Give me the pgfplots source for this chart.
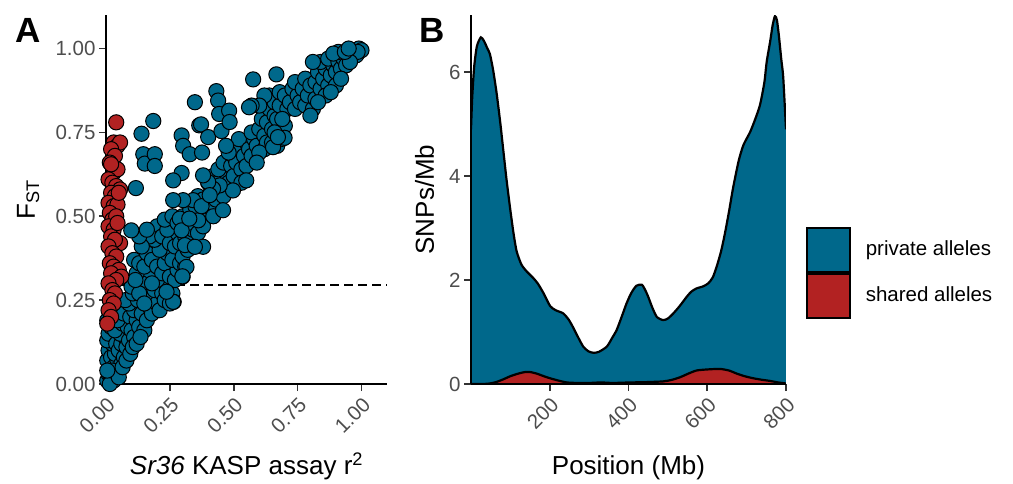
\documentclass[border=0pt]{standalone}
\usepackage{fontspec}
\setmainfont{Liberation Sans}
\usepackage{pgfplots}
\pgfplotsset{compat=1.18}
\definecolor{privblue}{HTML}{00688B}
\definecolor{sharedred}{HTML}{B22222}
\definecolor{ticktext}{HTML}{4D4D4D}
\definecolor{tickmark}{HTML}{333333}

\pgfplotsset{
  gg/.style={
    scale only axis, axis on top,
    axis x line*=bottom, axis y line*=left,
    axis line style={line width=2pt, black},
    tick style={line width=1.6pt, tickmark},
    tick align=outside, major tick length=7pt,
    tick label style={font=\fontsize{20.5}{23}\selectfont, text=ticktext},
    /pgf/number format/assume math mode=true,
    label style={font=\fontsize{26}{29}\selectfont},
    xticklabel style={rotate=45, anchor=north east},
  },
  dot/.style={only marks, mark=*, mark size=7.6pt,
    mark options={fill=#1, draw=black, line width=1pt}},
}

\begin{document}
\begin{tikzpicture}[x=1pt,y=1pt]
\path[use as bounding box] (0,0) rectangle (1013,483);

% ---------- panel A ----------
\begin{axis}[gg,
  at={(106pt,99pt)}, anchor=south west,
  width=281pt, height=369pt,
  xmin=0, xmax=1.1, ymin=0, ymax=1.1,
  xtick={0,0.25,0.5,0.75,1}, xticklabels={0.00,0.25,0.50,0.75,1.00},
  ytick={0,0.25,0.5,0.75,1}, yticklabels={0.00,0.25,0.50,0.75,1.00},
  xlabel={\textit{Sr36} KASP assay r\textsuperscript{2}},
  ylabel={F\textsubscript{ST}},
  xlabel style={at={(axis description cs:0.5,-0.2466)}, anchor=base},
  ylabel style={at={(axis description cs:-0.2527,0.5)}, anchor=base, rotate=0},
]
\addplot[black, line width=1.6pt, dash pattern=on 9pt off 5pt] coordinates {(0,0.295) (1.1,0.295)};
% blue: near origin
\addplot[dot=privblue] coordinates {
(0.005,0.01)(0.01,0.03)(0.02,0.02)(0.03,0.01)(0.015,0.05)(0.005,0.07)(0.01,0.10)(0.02,0.08)
(0.03,0.05)(0.04,0.03)(0.05,0.04)(0.045,0.07)(0.035,0.09)(0.025,0.12)(0.005,0.13)(0.01,0.15)
(0.02,0.17)(0.005,0.19)(0.04,0.12)(0.05,0.10)(0.06,0.06)(0.07,0.08)(0.06,0.12)(0.075,0.14)
(0.055,0.15)(0.035,0.16)(0.065,0.18)(0.08,0.11)(0.09,0.13)(0.085,0.17)(0.045,0.19)(0.07,0.21)
(0.095,0.20)(0.10,0.16)(0.11,0.14)(0.12,0.19)(0.11,0.22)(0.09,0.24)(0.075,0.25)(0.13,0.17)
(0.14,0.21)(0.15,0.16)(0.125,0.25)(0.105,0.27)(0.16,0.19)(0.015,0.00)(0.025,0.04)(0.05,0.02)
(0.065,0.05)(0.08,0.07)(0.095,0.09)(0.105,0.11)(0.12,0.12)(0.135,0.14)(0.005,0.04)
};
% blue: lower left
\addplot[dot=privblue] coordinates {
(0.17,0.23)(0.16,0.26)(0.18,0.21)(0.20,0.24)(0.19,0.28)(0.21,0.22)(0.22,0.27)(0.23,0.25)
(0.24,0.29)(0.25,0.24)(0.26,0.27)(0.265,0.245)(0.20,0.31)(0.17,0.33)(0.14,0.30)(0.12,0.33)
(0.11,0.37)(0.13,0.36)(0.15,0.35)(0.16,0.39)(0.18,0.37)(0.20,0.35)(0.22,0.33)(0.23,0.36)
(0.25,0.32)(0.27,0.31)(0.28,0.34)(0.24,0.39)(0.21,0.40)(0.19,0.43)(0.20,0.47)(0.17,0.44)
(0.14,0.41)(0.13,0.44)(0.16,0.46)(0.22,0.44)(0.25,0.42)(0.26,0.37)(0.29,0.36)(0.30,0.32)
(0.31,0.35)(0.27,0.41)(0.28,0.45)(0.24,0.46)(0.23,0.49)(0.10,0.29)(0.13,0.27)(0.115,0.31)
(0.18,0.30)(0.26,0.50)(0.15,0.24)
};
% blue: middle band
\addplot[dot=privblue] coordinates {
(0.30,0.38)(0.32,0.40)(0.29,0.42)(0.31,0.44)(0.33,0.43)(0.35,0.41)(0.34,0.46)(0.32,0.48)
(0.30,0.50)(0.28,0.48)(0.33,0.52)(0.36,0.45)(0.37,0.49)(0.35,0.53)(0.38,0.47)(0.39,0.52)
(0.36,0.56)(0.38,0.55)(0.40,0.53)(0.41,0.57)(0.42,0.50)(0.43,0.55)(0.40,0.60)(0.42,0.62)
(0.44,0.58)(0.45,0.61)(0.46,0.56)(0.47,0.63)(0.44,0.64)(0.46,0.66)(0.48,0.60)(0.49,0.65)
(0.50,0.62)(0.50,0.68)(0.51,0.66)(0.52,0.70)(0.53,0.64)(0.54,0.68)(0.55,0.72)(0.52,0.73)
(0.48,0.69)(0.47,0.71)(0.53,0.60)(0.55,0.65)(0.56,0.70)(0.57,0.68)(0.58,0.73)(0.57,0.75)
(0.59,0.71)
};
% blue: upper band
\addplot[dot=privblue] coordinates {
(0.60,0.76)(0.62,0.74)(0.61,0.79)(0.63,0.78)(0.64,0.82)(0.65,0.76)(0.66,0.80)(0.64,0.86)
(0.66,0.84)(0.67,0.79)(0.68,0.83)(0.69,0.74)(0.70,0.77)(0.68,0.87)(0.70,0.86)(0.71,0.82)
(0.72,0.84)(0.73,0.88)(0.74,0.82)(0.75,0.86)(0.74,0.90)(0.76,0.84)(0.77,0.88)(0.78,0.83)
(0.78,0.91)(0.79,0.86)(0.80,0.89)(0.81,0.82)(0.82,0.85)(0.80,0.80)(0.62,0.70)(0.63,0.72)
(0.60,0.69)(0.59,0.66)(0.65,0.72)(0.67,0.71)(0.66,0.75)(0.69,0.79)(0.62,0.86)(0.60,0.83)
(0.57,0.83)
(0.82,0.90)(0.83,0.93)(0.84,0.88)(0.85,0.91)(0.86,0.94)(0.84,0.96)(0.87,0.89)(0.88,0.92)
(0.89,0.95)(0.90,0.93)(0.87,0.97)(0.91,0.96)(0.92,0.94)(0.93,0.97)(0.94,0.95)(0.95,0.98)
(0.96,0.97)(0.97,0.99)(0.98,0.98)(0.99,1.00)(1.00,0.995)(0.965,0.985)(0.985,0.99)(0.955,0.96)
(0.90,0.89)(0.86,0.86)(0.83,0.84)(0.88,0.87)(0.92,0.91)(0.81,0.96)(0.91,0.99)(0.89,0.985)
(0.935,0.99)(0.95,1.00)
};
% blue: outliers
\addplot[dot=privblue] coordinates {
(0.576,0.908)(0.348,0.840)(0.432,0.873)(0.439,0.845)(0.185,0.784)(0.139,0.746)(0.146,0.685)
(0.152,0.657)(0.191,0.685)(0.191,0.650)(0.117,0.584)(0.099,0.458)(0.296,0.741)(0.302,0.710)
(0.328,0.685)(0.296,0.629)(0.263,0.607)(0.365,0.771)(0.372,0.774)(0.400,0.736)(0.376,0.690)
(0.443,0.805)(0.452,0.754)(0.482,0.815)(0.484,0.781)(0.560,0.825)(0.667,0.923)(0.690,0.731)
(0.699,0.734)(0.380,0.409)(0.315,0.349)(0.299,0.321)(0.263,0.245)(0.237,0.275)(0.289,0.493)
(0.296,0.458)(0.309,0.414)(0.348,0.409)(0.361,0.488)(0.326,0.493)(0.341,0.548)(0.302,0.548)
(0.263,0.548)(0.374,0.530)(0.458,0.518)(0.549,0.607)(0.497,0.577)(0.445,0.592)(0.419,0.582)
(0.400,0.602)(0.380,0.622)(0.406,0.563)(0.654,0.706)(0.673,0.736)
};
% red: shared
\addplot[dot=sharedred] coordinates {
(0.04,0.78)(0.03,0.72)(0.045,0.71)(0.055,0.72)(0.02,0.70)(0.035,0.68)(0.015,0.66)(0.03,0.63)
(0.045,0.64)(0.01,0.61)(0.025,0.60)(0.04,0.59)(0.055,0.58)(0.02,0.57)(0.035,0.56)(0.01,0.54)
(0.03,0.53)(0.045,0.535)(0.015,0.51)(0.025,0.49)(0.04,0.50)(0.01,0.47)(0.03,0.46)(0.02,0.44)
(0.055,0.42)(0.035,0.43)(0.01,0.41)(0.025,0.39)(0.04,0.38)(0.015,0.36)(0.03,0.35)(0.05,0.34)
(0.02,0.33)(0.06,0.32)(0.04,0.31)(0.01,0.30)(0.025,0.28)(0.035,0.27)(0.015,0.25)(0.03,0.24)
(0.01,0.22)(0.02,0.20)(0.005,0.18)(0.045,0.48)(0.02,0.655)(0.05,0.57)
};
\end{axis}

% ---------- panel B ----------
\begin{axis}[gg,
  at={(471pt,99pt)}, anchor=south west,
  width=315pt, height=369pt,
  xmin=0, xmax=800, ymin=0, ymax=7.1,
  xtick={200,400,600,800}, ytick={0,2,4,6},
  xlabel={Position (Mb)}, ylabel={SNPs/Mb},
  xlabel style={at={(axis description cs:0.5,-0.2466)}, anchor=base},
  ylabel style={at={(axis description cs:-0.1175,0.5)}, anchor=base},
  legend image code/.code={\draw[#1, draw=black, line width=1.8pt] (0pt,-23pt) rectangle (43pt,21pt);},
  legend cell align=left,
  legend style={at={(1.0635,0.4255)}, anchor=north west, draw=none, fill=none,
    inner sep=0pt, outer sep=0pt, row sep=0pt, column sep=15pt,
    font=\fontsize{20.5}{23}\selectfont, nodes={inner sep=0pt}},
]
\addplot[fill=privblue, draw=none, smooth, tension=0.4] coordinates {
(0,4.9)(3,5.5)(8,6.1)(15,6.5)(25,6.67)(33,6.6)(42,6.45)(48,6.35)(56,6.05)(65,5.6)
(74,5.05)(82,4.5)(90,3.95)(99,3.4)(108,2.9)(116,2.55)(128,2.3)(141,2.17)(158,2.04)(170,1.93)
(184,1.75)(201,1.5)(215,1.42)(234,1.36)(248,1.24)(260,1.08)(272,0.9)(285,0.72)(298,0.63)
(311,0.60)(325,0.62)(345,0.72)(358,0.88)(370,1.04)(383,1.3)(395,1.55)(407,1.75)(420,1.89)
(434,1.91)(443,1.8)(450,1.68)(460,1.48)(472,1.29)(488,1.23)(500,1.26)(514,1.36)(530,1.5)
(548,1.68)(560,1.78)(573,1.84)(590,1.88)(603,1.94)(614,2.05)(624,2.26)(635,2.55)(645,2.9)
(656,3.35)(666,3.79)(680,4.3)(692,4.6)(709,4.85)(722,5.1)(734,5.37)(745,5.8)(751,6.2)
(760,6.6)(766,6.9)(772,7.08)(777,7.0)(782,6.7)(788,6.25)(793,5.9)(800,4.9)
} \closedcycle;
\addlegendentry{private alleles}
\addplot[black, line width=2.2pt, smooth, tension=0.4, forget plot] coordinates {
(0,4.9)(3,5.5)(8,6.1)(15,6.5)(25,6.67)(33,6.6)(42,6.45)(48,6.35)(56,6.05)(65,5.6)
(74,5.05)(82,4.5)(90,3.95)(99,3.4)(108,2.9)(116,2.55)(128,2.3)(141,2.17)(158,2.04)(170,1.93)
(184,1.75)(201,1.5)(215,1.42)(234,1.36)(248,1.24)(260,1.08)(272,0.9)(285,0.72)(298,0.63)
(311,0.60)(325,0.62)(345,0.72)(358,0.88)(370,1.04)(383,1.3)(395,1.55)(407,1.75)(420,1.89)
(434,1.91)(443,1.8)(450,1.68)(460,1.48)(472,1.29)(488,1.23)(500,1.26)(514,1.36)(530,1.5)
(548,1.68)(560,1.78)(573,1.84)(590,1.88)(603,1.94)(614,2.05)(624,2.26)(635,2.55)(645,2.9)
(656,3.35)(666,3.79)(680,4.3)(692,4.6)(709,4.85)(722,5.1)(734,5.37)(745,5.8)(751,6.2)
(760,6.6)(766,6.9)(772,7.08)(777,7.0)(782,6.7)(788,6.25)(793,5.9)(800,4.9)
};
\addplot[fill=sharedred, draw=none, smooth, tension=0.4] coordinates {
(0,0)(30,0)(48,0.01)(65,0.04)(82,0.09)(100,0.15)(120,0.2)(137,0.23)(150,0.23)(167,0.2)
(185,0.15)(201,0.11)(220,0.07)(243,0.03)(270,0.02)(300,0.02)(330,0.03)(360,0.02)(404,0.03)
(440,0.035)(488,0.05)(510,0.08)(531,0.13)(552,0.2)(573,0.26)(600,0.28)(632,0.29)(655,0.26)
(675,0.2)(695,0.15)(717,0.11)(740,0.08)(759,0.06)(780,0.03)(800,0.01)
} \closedcycle;
\addlegendentry{shared alleles}
\addplot[black, line width=2.2pt, smooth, tension=0.4, forget plot] coordinates {
(0,0)(30,0)(48,0.01)(65,0.04)(82,0.09)(100,0.15)(120,0.2)(137,0.23)(150,0.23)(167,0.2)
(185,0.15)(201,0.11)(220,0.07)(243,0.03)(270,0.02)(300,0.02)(330,0.03)(360,0.02)(404,0.03)
(440,0.035)(488,0.05)(510,0.08)(531,0.13)(552,0.2)(573,0.26)(600,0.28)(632,0.29)(655,0.26)
(675,0.2)(695,0.15)(717,0.11)(740,0.08)(759,0.06)(780,0.03)(800,0.01)
};
\end{axis}

\node[anchor=base west, font=\fontsize{35}{38}\selectfont\bfseries] at (12,440) {A};
\node[anchor=base west, font=\fontsize{35}{38}\selectfont\bfseries] at (416,440) {B};
\end{tikzpicture}
\end{document}
